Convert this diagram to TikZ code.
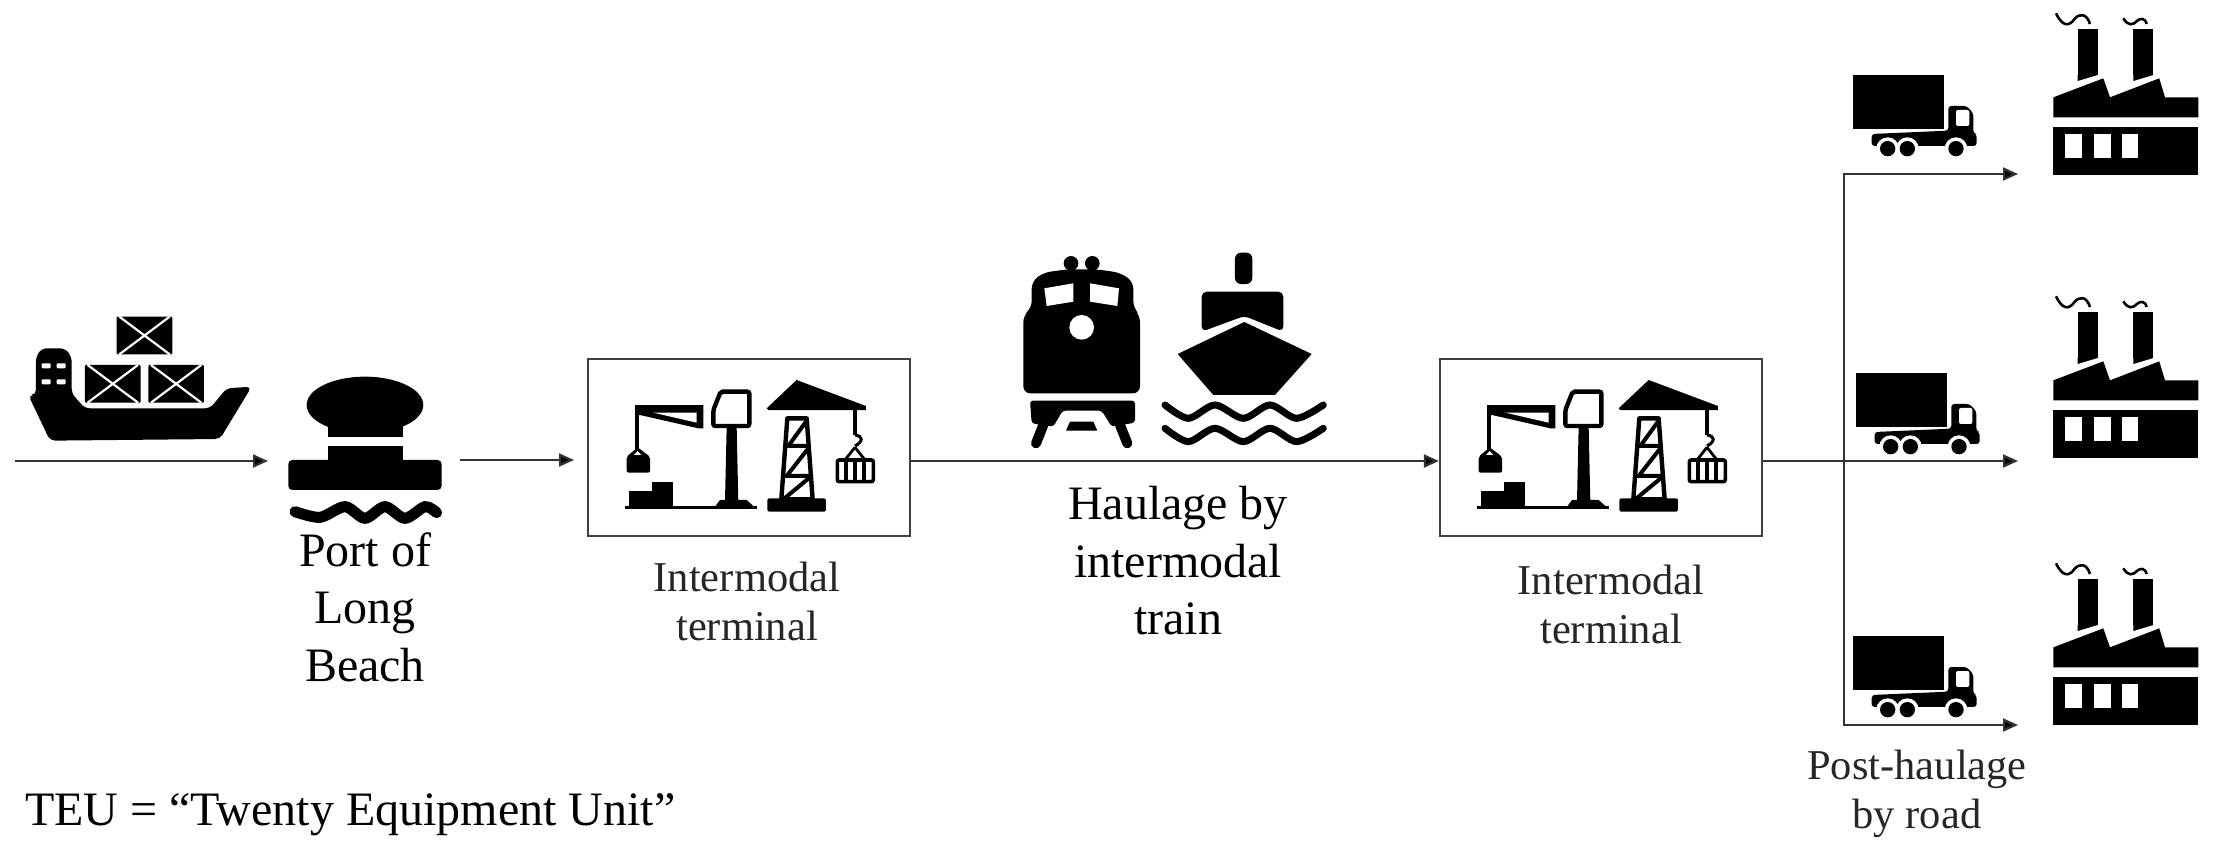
\documentclass[tikz,border=0pt]{standalone}
\usepackage{fontspec}
\setmainfont{Liberation Serif}
\usetikzlibrary{arrows.meta}
\tikzset{zoomscope/.style 2 args={shift={(#1,#2)},x=.3333pt,y=-.3333pt}}
\newcommand\cargoicon[2]{\begin{scope}[zoomscope={#1}{#2}]
 \fill[rounded corners=5pt] (85,315)--(108,315)--(108,200)--(125,175)--(195,175)--(215,200)--(215,310)--(255,355)--(630,355)--(680,295)--(755,290)--(660,447)--(150,452)--cycle;
 \foreach \a/\b in {125/220,170/220,125/268,170/268}{\fill[white,rounded corners=1pt] (\a,\b) rectangle ++(27,15);}
 \foreach \a/\b in {350/80,255/225,445/225}{
  \fill[rounded corners=1pt] (\a,\b) rectangle ++(167,113);
  \draw[white,line width=2.2pt] (\a+8,\b+113)--(\a+159,\b) (\a+8,\b)--(\a+159,\b+113);}
\end{scope}}
\newcommand\bollardicon[2]{\begin{scope}[zoomscope={#1}{#2}]
 \fill (1095,345) ellipse [x radius=175,y radius=85];
 \fill (985,390) rectangle (1208,440);
 \fill (985,467) rectangle (1208,520);
 \fill[rounded corners=4pt] (865,510) rectangle (1325,600);
 \draw[line width=11pt,line cap=round] plot[smooth] coordinates {(885,665)(960,682)(1035,650)(1095,685)(1155,650)(1215,685)(1275,650)(1310,668)};
\end{scope}}
\newcommand\terminalicon[2]{\begin{scope}[zoomscope={#1}{#2}]
 \fill (195,195)--(400,195)--(400,265)--(385,265)--(210,225)--(195,225)--cycle;
 \fill[white] (250,218)--(380,218)--(380,248)--cycle;
 \draw[line width=4pt] (202,200)--(202,330);
 \fill[rounded corners=2pt] (170,350)--(203,322)--(240,350)--(240,398)--(170,398)--cycle;
 \fill[white] (192,345)--(203,333)--(214,345)--cycle;
 \fill (178,452) rectangle (310,502);
 \fill (247,426) rectangle (310,452);
 \draw[line width=3pt] (165,503)--(560,503);
 \fill (470,260)--(500,260)--(505,485)--(465,485)--cycle;
 \fill (430,507)--(450,480)--(530,480)--(560,507)--cycle;
 \draw[line width=4.4pt,rounded corners=2pt] (452,155)--(538,155)--(538,258)--(430,258)--(430,210)--cycle;
 \fill (590,205)--(680,120)--(888,198)--(888,210)--(595,210)--cycle;
 \fill[rounded corners=2pt] (592,475) rectangle (768,515);
 \draw[line width=4.4pt,line join=round] (652,235)--(710,235)--(728,478)--(634,478)--cycle;
 \draw[line width=4pt] (650,318)--(715,318) (645,408)--(720,408) (655,318)--(708,245) (650,408)--(715,325) (640,478)--(722,410);
 \draw[line width=4pt] (855,205)--(855,285);
 \draw[line width=3pt] (855,285) .. controls (880,288) and (880,305) .. (855,318);
 \draw[line width=2.8pt] (855,322)--(825,360) (855,322)--(885,360);
 \draw[line width=3.6pt,rounded corners=2pt] (802,360) rectangle (910,425);
 \draw[line width=3.8pt] (829,360)--(829,425) (856,360)--(856,425) (883,360)--(883,425);
\end{scope}}
\newcommand\trainicon[2]{\begin{scope}[zoomscope={#1}{#2}]
 \fill (213,70) circle [radius=22];
 \fill (277,70) circle [radius=22];
 \fill[rounded corners=7pt] (70,225)--(95,205)--(95,125)--(130,98)--(200,88)--(290,88)--(360,98)--(400,125)--(400,205)--(420,225)--(420,460)--(70,460)--cycle;
 \fill[white] (133,145)--(220,130)--(220,185)--(140,198)--cycle;
 \fill[white] (270,130)--(357,145)--(352,198)--(270,185)--cycle;
 \fill[white] (245,262) circle [radius=37];
 \fill[rounded corners=3pt] (90,482)--(405,482)--(405,548)--(335,560)--(305,512)--(188,512)--(160,560)--(95,550)--cycle;
 \fill (210,545)--(280,545)--(292,572)--(198,572)--cycle;
 \draw[line width=10pt,line cap=round] (130,555)--(108,610) (360,555)--(382,610);
\end{scope}}
\newcommand\boaticon[2]{\begin{scope}[zoomscope={#1}{#2}]
 \fill[rounded corners=6pt] (705,132)--(705,38)--(757,38)--(757,132)--cycle;
 \fill[rounded corners=5pt] (605,275)--(605,155)--(850,155)--(850,275)--(733,228)--cycle;
 \fill (533,342)--(733,246)--(935,342)--(825,465)--(640,465)--cycle;
 \foreach \d in {0,70}{\draw[line width=7pt,line cap=round] plot[smooth] coordinates {(495,495+\d)(565,535+\d)(645,495+\d)(730,535+\d)(810,495+\d)(890,535+\d)(970,495+\d)};}
\end{scope}}
\newcommand\truckicon[2]{\begin{scope}[zoomscope={#1}{#2}]
 \fill (160,225) rectangle (433,388);
 \fill[rounded corners=3pt] (445,318)--(500,318)--(520,340)--(520,400)--(530,402)--(530,438)--(215,438)--(215,402)--(445,392)--cycle;
 \fill[white,rounded corners=2pt] (468,330) rectangle (508,378);
 \foreach \a in {263,322,468}{\fill[white] (\a,446) circle [radius=34];}
 \foreach \a in {263,322,468}{\fill (\a,446) circle [radius=23];}
\end{scope}}
\newcommand\factoryicon[2]{\begin{scope}[zoomscope={#1}{#2}]
 \fill (833,88) rectangle (893,225); \fill (833,225)--(893,225)--(833,243)--cycle;
 \fill (1000,88) rectangle (1060,225); \fill (1000,225)--(1060,225)--(1000,243)--cycle;
 \fill (760,292)--(910,235)--(930,292)--(1078,235)--(1095,292)--(1195,292)--(1195,352)--(760,352)--cycle;
 \fill (760,380) rectangle (1195,525);
 \foreach \a in {795,882,965}{\fill[white] (\a,402) rectangle ++(50,73);}
 \draw[line width=2.6pt] (768,40) .. controls (785,75) and (805,85) .. (825,55) .. controls (840,40) and (860,40) .. (870,72);
 \draw[line width=2.6pt] (970,55) .. controls (985,80) and (1000,75) .. (1012,62) .. controls (1020,55) and (1035,52) .. (1040,72);
\end{scope}}
\tikzset{
 flow/.style={draw=black!80,line width=2.2pt},
 flowarrow/.style={flow,-{Triangle[length=15pt,width=13pt,fill=black]}},
 terminalbox/.style={draw=black!75,line width=2.2pt,minimum width=322pt,minimum height=177pt,inner sep=0pt},
 bigtext/.style={inner sep=0pt,align=center,font=\fontsize{48}{57.5}\selectfont},
 smalltext/.style={inner sep=0pt,align=center,text=black!85,font=\fontsize{42.5}{49}\selectfont}
}
\begin{document}
\begin{tikzpicture}[x=1pt,y=-1pt]
\useasboundingbox (0,0) rectangle (2216,844);
\node[terminalbox] (term1) at (749,447.5) {};
\node[terminalbox] (term2) at (1601,447.5) {};
\cargoicon{0}{290}
\bollardicon{0}{290}
\terminalicon{570}{340}
\terminalicon{1422}{340}
\trainicon{1000}{240}
\boaticon{1000}{240}
\truckicon{1800}{0}
\truckicon{1803}{298}
\truckicon{1800}{561}
\factoryicon{1800}{0}
\factoryicon{1800}{283}
\factoryicon{1800}{550}
\coordinate (seaStart) at (15,461);
\coordinate (seaEnd) at (268,461);
\coordinate (portOut) at (460,460);
\coordinate (termIn) at (574,460);
\coordinate (split) at (1844,461);
\coordinate (upTurn) at (1844,174);
\coordinate (lowTurn) at (1844,725);
\coordinate (custTop) at (2018,174);
\coordinate (custMid) at (2018,461);
\coordinate (custLow) at (2018,725);
\draw[flowarrow] (seaStart) -- (seaEnd);
\draw[flowarrow] (portOut) -- (termIn);
\draw[flowarrow] (term1.east |- seaEnd) -- (term2.west |- seaEnd);
\draw[flow] (term2.east |- split) -- (split);
\draw[flowarrow] (split) -- (custMid);
\draw[flowarrow] (split) -- (upTurn) -- (custTop);
\draw[flowarrow] (split) -- (lowTurn) -- (custLow);
\node[bigtext] (portlabel) at (365,607) {Port of\\Long\\Beach};
\node[bigtext] (haullabel) at (1178,561) {Haulage by\\intermodal\\train};
\node[smalltext] (termlabel1) at (747,601) {Intermodal\\terminal};
\node[smalltext] (termlabel2) at (1611,604) {Intermodal\\terminal};
\node[smalltext] (postlabel) at (1917,794) {Post-haulage\\by road};
\node[bigtext,anchor=base west] (teu) at (25,825) {TEU = “Twenty Equipment Unit”};
\end{tikzpicture}
\end{document}
